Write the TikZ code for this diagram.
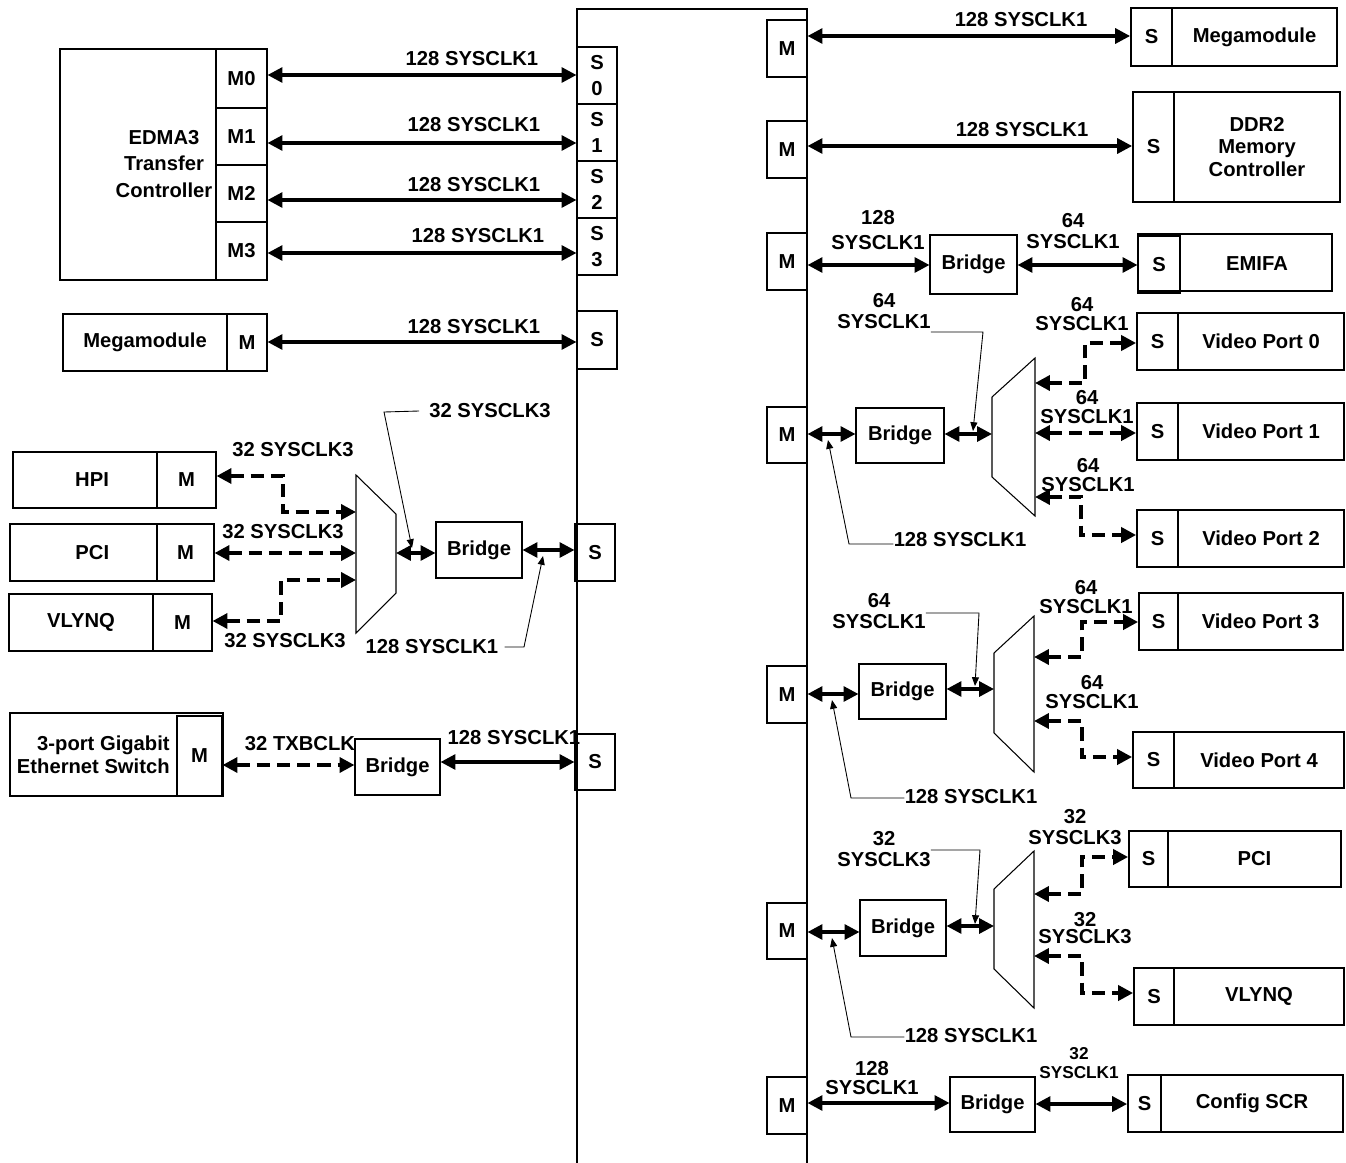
\documentclass[tikz,border=0pt]{standalone}
\usepackage{fontspec}
\setmainfont{Liberation Sans}
\usetikzlibrary{arrows.meta}
\newcommand\bxn[7][]{\node[bx,#1,minimum width={(#4-#2)*0.02cm},minimum height={(#5-#3)*0.02cm}] (#6) at ({(#2+#4)/2},{(#3+#5)/2}) {#7};}
\begin{document}
\begin{tikzpicture}[
 x=0.02cm, y=-0.02cm,
 every node/.style={font=\fontsize{11.5}{13}\selectfont\bfseries},
 bx/.style={draw, line width=0.6pt, inner sep=0pt, align=center},
 bigbx/.style={line width=1pt},
 lbl/.style={inner sep=0pt, align=center},
 arr/.style={line width=1.9pt, {Triangle[length=8.5pt,width=8.5pt]}-{Triangle[length=8.5pt,width=8.5pt]}},
 dsh/.style={arr, line width=2.1pt, dash pattern=on 7.5pt off 4pt},
 call/.style={line width=0.5pt, -{Triangle[length=5pt,width=4pt]}},
 mux/.style={line width=0.6pt}
]
\useasboundingbox (0,0) rectangle (1346,1163);
% switch fabric
\draw[line width=0.7pt] (577,1163) -- (577,9) -- (807,9) -- (807,1163);

% ===== left side =====
\bxn[bigbx]{60}{49}{216}{280}{edma}{}
\bxn{216}{49}{267}{108}{m0}{M0}
\bxn{216}{108}{267}{165}{m1}{M1}
\bxn{216}{165}{267}{222}{m2}{M2}
\bxn{216}{222}{267}{280}{m3}{M3}
\node[lbl] (edmat) at (164,164) {EDMA3\\[2.3pt]Transfer\\[2.3pt]Controller};

\bxn{577}{47}{617}{104}{s0}{S\\[2pt]0}
\bxn{577}{104}{617}{161}{s1}{S\\[2pt]1}
\bxn{577}{161}{617}{218}{s2}{S\\[2pt]2}
\bxn{577}{218}{617}{275}{s3}{S\\[2pt]3}

\draw[arr] (m0.east |- 0,75) -- (s0.west |- 0,75);
\draw[arr] (m1.east |- 0,143) -- (s1.west |- 0,143);
\draw[arr] (m2.east |- 0,200) -- (s2.west |- 0,200);
\draw[arr] (m3.east |- 0,253) -- (s3.west |- 0,253);
\node[lbl] (l1) at (472,59) {128 SYSCLK1};
\node[lbl] (l2) at (474,125) {128 SYSCLK1};
\node[lbl] (l3) at (474,185) {128 SYSCLK1};
\node[lbl] (l4) at (478,236) {128 SYSCLK1};

\bxn[bigbx]{63}{314}{227}{371}{mml}{Megamodule}
\bxn{227}{314}{267}{371}{mmlm}{M}
\bxn{577}{311}{617}{369}{sm}{S}
\draw[arr] (mmlm.east |- 0,342) -- (sm.west |- 0,342);
\node[lbl] (l5) at (474,327) {128 SYSCLK1};

% HPI / PCI / VLYNQ
\bxn[bigbx]{13}{452}{157}{508}{hpi}{\hspace*{8pt}HPI}
\bxn{157}{452}{216}{508}{hpim}{M}
\bxn[bigbx]{10}{524}{157}{581}{pci}{\hspace*{10pt}PCI}
\bxn{157}{524}{214}{581}{pcim}{M}
\bxn[bigbx]{9}{594}{153}{651}{vl}{VLYNQ}
\bxn{153}{594}{212}{651}{vlm}{M}

\draw[mux] (356,475) -- (396,514) -- (396,593) -- (356,633) -- cycle;
\coordinate (lmuxa) at (356,512);
\coordinate (lmuxb) at (356,553);
\coordinate (lmuxc) at (356,580);
\coordinate (lmuxo) at (396,553);

\draw[dsh] (hpim.east |- 0,476) -- (283,476) -- (283,512) -- (lmuxa);
\draw[dsh] (pcim.east |- 0,553) -- (lmuxb);
\draw[dsh] (vlm.east |- 0,621) -- (281,621) -- (281,580) -- (lmuxc);
\node[lbl] (l6) at (293,450) {32 SYSCLK3};
\node[lbl] (l7) at (283,532) {32 SYSCLK3};
\node[lbl] (l8) at (285,641) {32 SYSCLK3};

\bxn{436}{522}{522}{578}{lb}{Bridge}
\bxn{575}{524}{615}{581}{sb}{S}
\draw[arr] (lmuxo) -- (lmuxo -| lb.west);
\draw[arr] (lb.east |- 0,550) -- (sb.west |- 0,550);

\node[lbl] (cG) at (490,411) {32 SYSCLK3};
\draw[call] ([xshift=-0.2cm]cG.west) -- (384,412) -- (412,548);
\node[lbl] (cH) at (432,647) {128 SYSCLK1};
\draw[call] ([xshift=0.12cm]cH.east) -- (524,647) -- (543,556);

% Ethernet
\bxn[line width=1.3pt]{10}{713}{223}{796}{eth}{}
\bxn{177}{716}{222}{796}{ethm}{M}
\node[lbl, anchor=east, align=right] (etht) at (170,755) {3-port Gigabit\\Ethernet Switch};
\bxn{355}{739}{440}{795}{eb}{Bridge}
\bxn{575}{734}{615}{790}{se}{S}
\draw[dsh] (ethm.east |- 0,765) -- (eb.west |- 0,765);
\draw[arr] (eb.east |- 0,762) -- (se.west |- 0,762);
\node[lbl] (l9) at (300,744) {32 TXBCLK};
\node[lbl] (l10) at (514,738) {128 SYSCLK1};

% ===== right side =====
\bxn{767}{20}{807}{77}{rm1}{M}
\bxn{767}{121}{807}{178}{rm2}{M}
\bxn{767}{233}{807}{290}{rm3}{M}
\bxn{767}{407}{807}{463}{rm4}{M}
\bxn{767}{666}{807}{723}{rm5}{M}
\bxn{767}{903}{807}{959}{rm6}{M}
\bxn{767}{1077}{807}{1134}{rm7}{M}

% Megamodule
\bxn[bigbx]{1172}{8}{1337}{66}{mmr}{Megamodule}
\bxn[bigbx]{1131}{8}{1172}{66}{ms}{S}
\draw[arr] (rm1.east |- 0,36) -- (ms.west |- 0,36);
\node[lbl] (r1) at (1021,20) {128 SYSCLK1};

% DDR2
\bxn[bigbx]{1174}{92}{1340}{202}{dm}{DDR2\\Memory\\Controller}
\bxn[bigbx]{1133}{92}{1174}{202}{ds}{S}
\draw[arr] (rm2.east |- 0,146) -- (ds.west |- 0,146);
\node[lbl] (r2) at (1022,130) {128 SYSCLK1};

% EMIFA
\bxn{930}{235}{1017}{294}{br1}{Bridge}
\bxn[bigbx]{1138}{234}{1332}{291}{em}{}
\bxn{1138}{236}{1180}{293}{es}{S}
\node[lbl] (emt) at (1257,264) {EMIFA};
\draw[arr] (rm3.east |- 0,265) -- (br1.west |- 0,265);
\draw[arr] (br1.east |- 0,265) -- (es.west |- 0,265);
\node[lbl] (r3) at (878,230) {128\\[1pt]SYSCLK1};
\node[lbl] (r4) at (1073,231) {64\\[-1pt]SYSCLK1};

% Video group 1
\bxn{856}{408}{944}{463}{br2}{Bridge}
\draw[mux] (992,397) -- (1035,358) -- (1035,516) -- (992,477) -- cycle;
\coordinate (mux1i) at (992,434);
\coordinate (mux1a) at (1035,383);
\coordinate (mux1b) at (1035,433);
\coordinate (mux1c) at (1035,497);
\bxn[bigbx]{1178}{313}{1344}{370}{vp0}{Video Port 0}
\bxn[bigbx]{1137}{313}{1178}{370}{vs0}{S}
\bxn[bigbx]{1178}{403}{1344}{460}{vp1}{Video Port 1}
\bxn[bigbx]{1137}{403}{1178}{460}{vs1}{S}
\bxn[bigbx]{1178}{510}{1344}{567}{vp2}{Video Port 2}
\bxn[bigbx]{1137}{510}{1178}{567}{vs2}{S}
\draw[arr] (rm4.east |- 0,434) -- (br2.west |- 0,434);
\draw[arr] (br2.east |- 0,434) -- (mux1i);
\draw[dsh] (mux1a) -- (1085,383) -- (1085,343) -- (vs0.west |- 0,343);
\draw[dsh] (mux1b) -- (vs1.west |- 0,433);
\draw[dsh] (mux1c) -- (1081,497) -- (1081,535) -- (vs2.west |- 0,535);
\node[lbl] (v1) at (1082,314) {64\\[-2pt]SYSCLK1};
\node[lbl] (v2) at (1087,407) {64\\[-2pt]SYSCLK1};
\node[lbl] (v3) at (1088,475) {64\\[-2pt]SYSCLK1};
\node[lbl] (cA) at (884,311) {64\\[-1pt]SYSCLK1};
\draw[call] (cA.east |- 0,332) -- (983,332) -- (973,431);
\node[lbl] (cB) at (960,540) {128 SYSCLK1};
\draw[call] (cB.west |- 0,544) -- (849,544) -- (828,440);

% Video group 2
\bxn{859}{664}{946}{719}{br3}{Bridge}
\draw[mux] (994,653) -- (1034,616) -- (1034,772) -- (994,733) -- cycle;
\coordinate (mux2i) at (994,689);
\coordinate (mux2a) at (1034,657);
\coordinate (mux2b) at (1034,721);
\bxn[bigbx]{1178}{593}{1343}{650}{vp3}{Video Port 3}
\bxn[bigbx]{1139}{593}{1178}{650}{vs3}{S}
\bxn[bigbx]{1174}{732}{1344}{788}{vp4}{Video Port 4}
\bxn[bigbx]{1133}{732}{1174}{788}{vs4}{S}
\draw[arr] (rm5.east |- 0,694) -- (br3.west |- 0,694);
\draw[arr] (br3.east |- 0,689) -- (mux2i);
\draw[dsh] (mux2a) -- (1082,657) -- (1082,622) -- (vs3.west |- 0,622);
\draw[dsh] (mux2b) -- (1082,721) -- (1082,757) -- (vs4.west |- 0,757);
\node[lbl] (v4) at (1086,597) {64\\[-2pt]SYSCLK1};
\node[lbl] (v5) at (1092,692) {64\\[-2pt]SYSCLK1};
\node[lbl] (cC) at (879,611) {64\\[-1pt]SYSCLK1};
\draw[call] (cC.east |- 0,613) -- (979,613) -- (975,686);
\node[lbl] (cD) at (971,797) {128 SYSCLK1};
\draw[call] (cD.west |- 0,798) -- (851,798) -- (832,700);

% Group 3 (PCI / VLYNQ)
\bxn{860}{900}{946}{956}{br4}{Bridge}
\draw[mux] (994,889) -- (1034,851) -- (1034,1008) -- (994,969) -- cycle;
\coordinate (mux3i) at (994,926);
\coordinate (mux3a) at (1034,894);
\coordinate (mux3b) at (1034,956);
\bxn[bigbx]{1168}{831}{1341}{887}{pm}{PCI}
\bxn[bigbx]{1129}{831}{1168}{887}{ps}{S}
\bxn[bigbx]{1174}{968}{1344}{1025}{vlm2}{VLYNQ}
\bxn[bigbx]{1134}{968}{1174}{1025}{vls}{S}
\draw[arr] (rm6.east |- 0,932) -- (br4.west |- 0,932);
\draw[arr] (br4.east |- 0,926) -- (mux3i);
\draw[dsh] (mux3a) -- (1082,894) -- (1082,857) -- (ps.west |- 0,857);
\draw[dsh] (mux3b) -- (1082,956) -- (1082,993) -- (vls.west |- 0,993);
\node[lbl] (v6) at (1075,827) {32\\[-1pt]SYSCLK3};
\node[lbl] (v7) at (1085,928) {32\\[-3pt]SYSCLK3};
\node[lbl] (cE) at (884,849) {32\\[-1pt]SYSCLK3};
\draw[call] (cE.east |- 0,850) -- (980,850) -- (975,924);
\node[lbl] (cF) at (971,1036) {128 SYSCLK1};
\draw[call] (cF.west |- 0,1037) -- (851,1037) -- (832,938);

% Config SCR
\bxn{950}{1077}{1035}{1132}{br5}{Bridge}
\bxn[bigbx]{1161}{1075}{1343}{1132}{cm}{Config SCR}
\bxn[bigbx]{1128}{1075}{1161}{1132}{cs}{S}
\draw[arr] (rm7.east |- 0,1103) -- (br5.west |- 0,1103);
\draw[arr] (br5.east |- 0,1104) -- (cs.west |- 0,1104);
\node[lbl] (r7) at (872,1078) {128\\[-2pt]SYSCLK1};
\node[lbl, font=\fontsize{9.8}{11}\selectfont\bfseries] (r8) at (1079,1063) {32\\SYSCLK1};
\end{tikzpicture}
\end{document}
